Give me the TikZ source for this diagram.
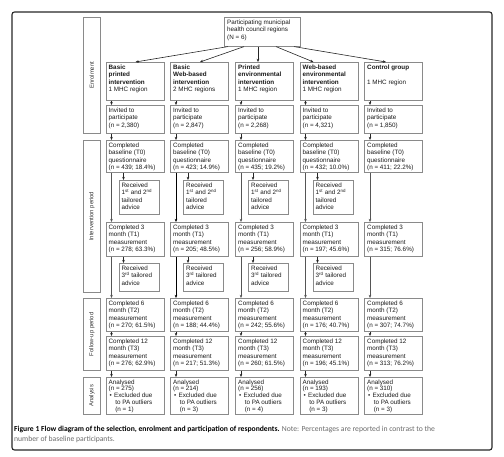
\documentclass[tikz,border=0pt]{standalone}
\usepackage{fontspec}
\setmainfont{Liberation Sans}
\newfontfamily\capfont{Carlito}
\usetikzlibrary{arrows.meta}
\definecolor{boxgray}{HTML}{8A8A8A}
\definecolor{linegray}{HTML}{555555}
\definecolor{notegray}{HTML}{6A6A6A}
\newcommand\mybox[6]{%
  \node[bx,anchor=north west,minimum width=#4pt,minimum height=#5pt] (#1) at (#2,#3) {};
  \node[txt,anchor=north west] at ([xshift=3pt,yshift=-2.6pt]#1.north west) {#6};}
\begin{document}
\begin{tikzpicture}[x=1pt,y=-1pt,
  bx/.style={draw=boxgray,line width=0.6pt,inner sep=0pt,rectangle},
  txt/.style={inner sep=0pt,align=left,font=\fontsize{6.3}{7.5}\selectfont,text=black!90},
  sidetxt/.style={rotate=90,inner sep=0pt,font=\fontsize{5.9}{6.5}\selectfont,text=black!80},
  arr/.style={-{Stealth[length=3.2pt,width=2.6pt]},line width=0.6pt,draw=black!85},
]
\useasboundingbox (0,0) rectangle (504,456);
% outer frame
\draw[line width=1.1pt,rounded corners=2.5pt,black!85] (12,12) rectangle (492,450);

% top box
\mybox{top}{224}{17}{76}{29}{Participating municipal\\health council regions\\(N = 6)}

% side boxes
\node[bx,anchor=north west,minimum width=17pt,minimum height=116pt] (s1) at (83,17) {};
\node[sidetxt] at (s1.center) {Enrolment};
\node[bx,anchor=north west,minimum width=17pt,minimum height=152pt] (s2) at (83,140) {};
\node[sidetxt] at (s2.center) {Intervention period};
\node[bx,anchor=north west,minimum width=17pt,minimum height=72pt] (s3) at (83,298) {};
\node[sidetxt] at (s3.center) {Follow-up period};
\node[bx,anchor=north west,minimum width=17pt,minimum height=37pt] (s4) at (83,377) {};
\node[sidetxt] at (s4.center) {Analysis};

% group boxes
\mybox{g1}{105.5}{62}{58}{38}{\textbf{Basic}\\\textbf{printed}\\\textbf{intervention}\\1 MHC region}
\mybox{g2}{170}{62}{58}{38}{\textbf{Basic}\\\textbf{Web-based}\\\textbf{intervention}\\2 MHC regions}
\mybox{g3}{235}{62}{58}{38}{\textbf{Printed}\\\textbf{environmental}\\\textbf{intervention}\\1 MHC region}
\mybox{g4}{299.5}{62}{58}{38}{\textbf{Web-based}\\\textbf{environmental}\\\textbf{intervention}\\1 MHC region}
\mybox{g5}{364}{62}{58}{38}{\textbf{Control group}\\[7.5pt]1 MHC region}

% invited
\foreach \i/\L/\n in {1/105.5/{2,380},2/170/{2,847},3/235/{2,268},4/299.5/{4,321},5/364/{1,850}}{
  \mybox{inv\i}{\L}{105}{58}{28}{Invited to\\participate\\(n = \n)}
}
% baseline
\foreach \i/\L/\n in {1/105.5/{439; 18.4\%},2/170/{423; 14.9\%},3/235/{435; 19.2\%},4/299.5/{432; 10.0\%},5/364/{411; 22.2\%}}{
  \mybox{b\i}{\L}{140}{58}{32}{Completed\\baseline (T0)\\questionnaire\\(n = \n)}
}
% received 1st and 2nd
\foreach \i/\L in {1/105.5,2/170,3/235,4/299.5}{
  \mybox{ra\i}{\L+13}{180}{40}{34}{Received\\1\textsuperscript{st} and 2\textsuperscript{nd}\\tailored\\advice}
}
% 3 month
\foreach \i/\L/\n in {1/105.5/{278; 63.3\%},2/170/{205; 48.5\%},3/235/{256; 58.9\%},4/299.5/{197; 45.6\%},5/364/{315; 76.6\%}}{
  \mybox{m\i}{\L}{222}{58}{34}{Completed 3\\month (T1)\\measurement\\(n = \n)}
}
% received 3rd
\foreach \i/\L in {1/105.5,2/170,3/235,4/299.5}{
  \mybox{rb\i}{\L+13}{263}{40}{28}{Received\\3\textsuperscript{rd} tailored\\advice}
}
% 6 month
\foreach \i/\L/\n in {1/105.5/{270; 61.5\%},2/170/{188; 44.4\%},3/235/{242; 55.6\%},4/299.5/{176; 40.7\%},5/364/{307; 74.7\%}}{
  \mybox{sx\i}{\L}{298}{58}{33}{Completed 6\\month (T2)\\measurement\\(n = \n)}
}
% 12 month
\foreach \i/\L/\n in {1/105.5/{276; 62.9\%},2/170/{217; 51.3\%},3/235/{260; 61.5\%},4/299.5/{196; 45.1\%},5/364/{313; 76.2\%}}{
  \mybox{tw\i}{\L}{336}{58}{34}{Completed 12\\month (T3)\\measurement\\(n = \n)}
}
% analysed
\foreach \i/\L/\n/\e in {1/105.5/275/1,2/170/214/3,3/235/256/4,4/299.5/193/3,5/364/310/3}{
  \node[bx,anchor=north west,minimum width=58pt,minimum height=37pt] (an\i) at (\L,377) {};
  \node[txt,font=\fontsize{6.3}{6.8}\selectfont,anchor=north west] at ([xshift=3pt,yshift=-2.4pt]an\i.north west)
    {Analysed\\(n = \n)\\\hspace*{1pt}•\hspace{2.2pt}Excluded due\\\hspace*{6.6pt}to PA outliers\\\hspace*{6.6pt}(n = \e)};
}

% arrows from top box
\draw[arr] ([xshift=4pt]top.south west) -- ([xshift=30pt]g1.north west);
\draw[arr] ([xshift=20pt]top.south west) -- ([xshift=30pt]g2.north west);
\draw[arr] ([xshift=34pt]top.south west) -- ([xshift=23pt]g3.north west);
\draw[arr] ([xshift=52pt]top.south west) -- ([xshift=14pt]g4.north west);
\draw[arr] ([xshift=70pt]top.south west) -- ([xshift=22pt]g5.north west);

% column connectors
\foreach \i/\c/\w in {1/linegray/0.6pt,2/black/0.8pt,3/linegray/0.6pt,4/linegray/0.6pt,5/linegray/0.6pt}{
  \draw[arr] ([xshift=6pt]g\i.south west) -- ([xshift=6pt]inv\i.north west);
  \draw[arr] ([xshift=6pt]inv\i.south west) -- ([xshift=6pt]b\i.north west);
  \draw[arr,draw=\c,line width=\w] ([xshift=6pt]b\i.south west) -- ([xshift=6pt]m\i.north west);
  \draw[arr,draw=\c,line width=\w] ([xshift=6pt]m\i.south west) -- ([xshift=6pt]sx\i.north west);
  \draw[arr] ([xshift=6pt]sx\i.south west) -- ([xshift=6pt]tw\i.north west);
  \draw[arr] ([xshift=6pt]tw\i.south west) -- ([xshift=6pt]an\i.north west);
}
\foreach \i in {1,2,3,4}{
  \draw[arr] ([xshift=18pt]b\i.south west) -- ([xshift=5pt]ra\i.north west);
  \draw[arr] ([xshift=18pt]m\i.south west) -- ([xshift=5pt]rb\i.north west);
}

% caption
\node[anchor=base west,inner sep=0pt,font=\capfont\fontsize{7.65}{9}\selectfont] (cap1) at (14,431)
  {\textbf{Figure 1 Flow diagram of the selection, enrolment and participation of respondents.} \textcolor{notegray}{Note: Percentages are reported in contrast to the}};
\node[anchor=base west,inner sep=0pt,font=\capfont\fontsize{7.65}{9}\selectfont,text=notegray] (cap2) at (14,441)
  {number of baseline participants.};
\end{tikzpicture}
\end{document}
